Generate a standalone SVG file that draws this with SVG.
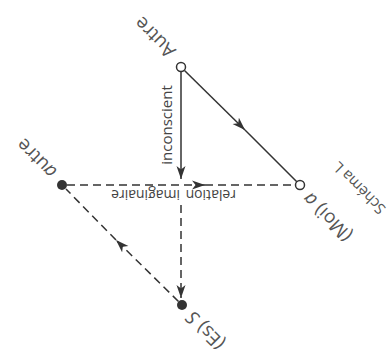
<svg xmlns="http://www.w3.org/2000/svg" width="390" height="358" viewBox="0 0 390 358">
<style>
.lbl{font-family:"Open Sans","Liberation Sans",sans-serif;fill:#555;font-size:19px}
.sm{font-family:"Open Sans","Liberation Sans",sans-serif;fill:#444;font-size:14px}
.ln{stroke:#333;stroke-width:1.5;fill:none}
.ds{stroke-dasharray:8 5}
.oc{fill:#fff;stroke:#333;stroke-width:1.5}
.fc{fill:#333}
.it{font-style:italic}
</style>
<defs>
<marker id="ah" viewBox="0 0 13 10" refX="13" refY="5" markerWidth="13" markerHeight="10" markerUnits="userSpaceOnUse" orient="auto"><path d="M0,0.5 L13,5 L0,9.5 L3.5,5 Z" fill="#333"/></marker>
</defs>
<rect width="390" height="358" fill="#fff"/>
<g id="connectors">
<path class="ln" d="M184.5,70.5 L245,130" marker-end="url(#ah)"/>
<path class="ln" d="M245,130 L296.8,181.8"/>
<path class="ln" d="M181,72 L181,179" marker-end="url(#ah)"/>
<path class="ln ds" d="M181,205 L181,298" marker-end="url(#ah)"/>
<path class="ln ds" d="M67,185 L205,185" marker-end="url(#ah)"/>
<path class="ln ds" d="M205,185 L295.5,185"/>
<path class="ln ds" d="M178.5,301.5 L116,240" marker-end="url(#ah)"/>
<path class="ln ds" d="M116,240 L66,189"/>
</g>
<g id="node-A">
<circle class="oc" cx="181" cy="67" r="4.5"/>
<text class="lbl" transform="translate(181,67) rotate(-135)" x="15" y="9">Autre</text>
</g>
<g id="node-a">
<circle class="oc" cx="300" cy="185" r="4.5"/>
<text class="lbl" transform="translate(300,185) rotate(-135)" x="-12" y="3" text-anchor="end">(Moi) <tspan class="it">a</tspan></text>
</g>
<g id="node-a2">
<circle class="fc" cx="62" cy="185" r="5"/>
<text class="lbl" transform="translate(62,185) rotate(-135)" x="13" y="7"><tspan class="it">a</tspan>utre</text>
</g>
<g id="node-S">
<circle class="fc" cx="182" cy="305" r="5"/>
<text class="lbl" transform="translate(182,305) rotate(-135)" x="-12" y="5" text-anchor="end">(Es) <tspan class="it">S</tspan></text>
</g>
<g id="labels">
<text class="lbl" style="font-size:15px" transform="translate(300,185) rotate(-135)" x="-44" y="45" text-anchor="middle">Schéma L</text>
<text class="sm" style="font-size:15px" transform="translate(172,125) rotate(-90)" text-anchor="middle">inconscient</text>
<text class="sm" transform="translate(236,190) rotate(180)">relation</text>
<text class="sm" transform="translate(180,190) rotate(180)">imaginaire</text>
</g>
</svg>
